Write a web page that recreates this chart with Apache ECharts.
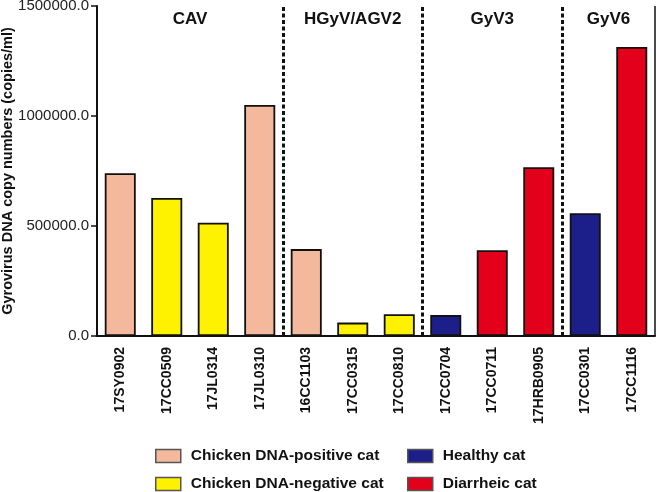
<!DOCTYPE html>
<html>
<head>
<meta charset="utf-8">
<script src="https://cdn.jsdelivr.net/npm/echarts@6/dist/echarts.min.js"></script>
<style>html,body{margin:0;padding:0;background:#fff}#c{width:658px;height:492px}</style>
</head>
<body>
<div id="c"></div>
<script>
var categories = ['17SY0902','17CC0509','17JL0314','17JL0310','16CC1103','17CC0315','17CC0810','17CC0704','17CC0711','17HRB0905','17CC0301','17CC1116'];
var values = [740000, 627000, 515000, 1050000, 395000, 61000, 99000, 95000, 390000, 767000, 558000, 1314000];
var catStatus = ['pos','neg','neg','pos','pos','neg','neg','healthy','diarrheic','diarrheic','healthy','diarrheic'];
var statusKeys = ['pos','neg','healthy','diarrheic'];
var statusNames = ['Chicken DNA-positive cat','Chicken DNA-negative cat','Healthy cat','Diarrheic cat'];
var statusColors = ['#F4B99C','#FFF200','#1C1F8A','#E3001B'];
var groupNames = ['CAV','HGyV/AGV2','GyV3','GyV6'];
var groupBounds = [0, 4, 7, 10, 12];
var yTicks = [0, 500000, 1000000, 1500000];

var FONT = 'Arial, "Liberation Sans", sans-serif';
var chart = echarts.init(document.getElementById('c'));

var series = statusKeys.map(function (k, si) {
  return {
    name: statusNames[si],
    type: 'bar',
    xAxisIndex: 0,
    yAxisIndex: 0,
    barGap: '-100%',
    barWidth: 31,
    itemStyle: { color: statusColors[si], borderColor: '#111', borderWidth: 1.8 },
    data: values.map(function (v, i) { return catStatus[i] === k ? v : null; })
  };
});

var areas = [];
for (var g = 0; g < groupNames.length; g++) {
  areas.push([{ xAxis: groupBounds[g], name: groupNames[g] }, { xAxis: groupBounds[g + 1] }]);
}
var seps = groupBounds.slice(1, groupBounds.length - 1).map(function (b) {
  return { xAxis: b, lineStyle: { type: [4, 2.5], width: 3, color: '#111' } };
});
seps.push({ xAxis: groupBounds[groupBounds.length - 1], lineStyle: { type: 'solid', width: 1.5, color: '#111' } });

series.push({
  type: 'line',
  xAxisIndex: 1,
  yAxisIndex: 1,
  data: [],
  silent: true,
  markLine: {
    silent: true, symbol: 'none', label: { show: false },
    data: seps
  },
  markArea: {
    silent: true,
    itemStyle: { color: 'rgba(0,0,0,0)' },
    label: { show: true, position: 'insideTop', distance: 5, fontFamily: FONT, fontWeight: 'bold', fontSize: 17, color: '#111' },
    data: areas
  }
});

function legendOf(left, names) {
  return {
    left: left, top: 448,
    height: 70,
    padding: 0,
    orient: 'vertical',
    icon: 'rect',
    itemWidth: 25,
    itemHeight: 13,
    itemGap: 12,
    itemStyle: { borderColor: '#555', borderWidth: 1.5 },
    textStyle: { fontFamily: FONT, fontWeight: 'bold', fontSize: 15.5, color: '#111', padding: [0, 0, 0, 5] },
    selectedMode: false,
    data: names
  };
}

var gridBox = { left: 97, right: 3, top: 6, bottom: 156, outerBoundsMode: 'none', containLabel: false };

chart.setOption({
  animation: false,
  textStyle: { fontFamily: FONT },
  grid: [Object.assign({}, gridBox), Object.assign({}, gridBox)],
  legend: [legendOf(155, [statusNames[0], statusNames[1]]), legendOf(407, [statusNames[2], statusNames[3]])],
  xAxis: [{
    type: 'category',
    gridIndex: 0,
    data: categories,
    axisLine: { lineStyle: { color: '#111', width: 2 } },
    axisTick: { alignWithLabel: true, length: 5, lineStyle: { color: '#111', width: 1.5 } },
    axisLabel: { rotate: 90, margin: 11, fontFamily: FONT, fontWeight: 'bold', fontSize: 14, color: '#111', interval: 0 }
  }, {
    type: 'value', gridIndex: 1, min: 0, max: 12, show: false
  }],
  yAxis: [{
    type: 'value',
    gridIndex: 0,
    min: yTicks[0], max: yTicks[yTicks.length - 1], interval: yTicks[1] - yTicks[0],
    name: 'Gyrovirus DNA copy numbers (copies/ml)',
    nameLocation: 'middle',
    nameGap: 82,
    nameMoveOverlap: false,
    nameTextStyle: { fontFamily: FONT, fontWeight: 'bold', fontSize: 14.5, color: '#111' },
    axisLine: { show: true, lineStyle: { color: '#111', width: 2 } },
    axisTick: { show: true, length: 6, lineStyle: { color: '#111', width: 1.5 } },
    axisLabel: { margin: 8, fontFamily: FONT, fontSize: 15, color: '#222', formatter: function (v) { return v.toFixed(1); } },
    splitLine: { show: false }
  }, {
    type: 'value', gridIndex: 1, min: 0, max: 1, show: false
  }],
  series: series
});
</script>
</body>
</html>
